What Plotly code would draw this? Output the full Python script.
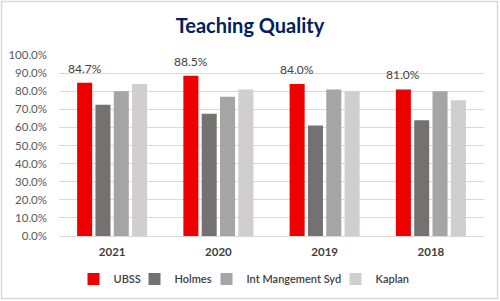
import plotly.graph_objects as go

years = ["2021", "2020", "2019", "2018"]
ubss = [84.7, 88.5, 84.0, 81.0]
holmes = [72.5, 67.5, 61.0, 64.0]
int_mgmt = [80.0, 77.0, 81.0, 80.0]
kaplan = [84.0, 81.0, 80.0, 75.0]
series_names = ["UBSS", "Holmes", "Int Mangement Syd", "Kaplan"]
colors = ["#EE0000", "#767171", "#A5A5A5", "#D0CECE"]
y_ticks = [0, 10, 20, 30, 40, 50, 60, 70, 80, 90, 100]

FONT = "Lato"
W, H = 500, 301
ml, mr, mt, mb = 59, 16, 55, 65
pw, ph = W - ml - mr, H - mt - mb
BARGAP, GROUPGAP = 0.31, 0.18

# legend box left edges (px) for each series
legend_left_px = [73.5, 134.5, 206.5, 335.5]
legend_keys = ["legend", "legend2", "legend3", "legend4"]

fig = go.Figure()
for name, vals, col, lk in zip(series_names, [ubss, holmes, int_mgmt, kaplan], colors, legend_keys):
    fig.add_trace(go.Bar(name=name, x=years, y=vals, marker_color=col,
                         marker_line_width=0, legend=lk))

# data labels for UBSS, centred over the red (first) bar of each group
cat_w = pw / len(years)
slot = cat_w * (1 - BARGAP) / len(series_names)
red_offset = -1.5 * slot
annotations = [dict(x=i, y=v, xref="x", yref="y", text=f"{v:.1f}%",
                    showarrow=False, xanchor="center", yanchor="bottom",
                    xshift=red_offset, yshift=5,
                    font=dict(family=FONT, size=12, color="#404040"))
               for i, v in enumerate(ubss)]

leg_common = dict(orientation="h", xanchor="left", yanchor="middle",
                  y=-(279 - 236) / ph, itemwidth=30,
                  font=dict(family=FONT, size=11, color="#404040", weight=600),
                  bgcolor="rgba(0,0,0,0)")
legends = {}
for lk, lx in zip(legend_keys, legend_left_px):
    legends[lk] = dict(leg_common, x=(lx - ml) / pw)

fig.update_layout(
    width=W, height=H,
    margin=dict(l=ml, r=mr, t=mt, b=mb, autoexpand=False),
    paper_bgcolor="white", plot_bgcolor="white",
    barmode="group", bargap=BARGAP, bargroupgap=GROUPGAP,
    title=dict(text="<b>Teaching Quality</b>", x=0.5, xanchor="center",
               y=1 - 26 / H, yanchor="middle",
               font=dict(family=FONT, size=20, color="#002060")),
    showlegend=True,
    annotations=annotations,
    xaxis=dict(type="category", categoryorder="array", categoryarray=years,
               range=[-0.5, len(years) - 0.5],
               showgrid=False, showline=False, ticks="", ticklabelstandoff=7,
               tickfont=dict(family=FONT, size=11.5, color="#404040", weight="bold")),
    yaxis=dict(range=[0, 100], tickvals=y_ticks,
               ticktext=[f"{v:.1f}%" for v in y_ticks],
               showgrid=True, gridcolor="#D9D9D9", gridwidth=1,
               zeroline=True, zerolinecolor="#D9D9D9", zerolinewidth=1,
               showline=False, ticks="", ticklabelstandoff=11,
               tickfont=dict(family=FONT, size=11.5, color="#595959")),
    shapes=[dict(type="rect", xref="paper", yref="paper",
                 x0=-(ml - 1.5) / pw, x1=1 + (mr - 2.5) / pw,
                 y0=-(mb - 2.5) / ph, y1=1 + (mt - 1.5) / ph,
                 line=dict(color="#D9D9D9", width=1.5), fillcolor="rgba(0,0,0,0)")],
    **legends,
)
fig.write_html("out.html")
